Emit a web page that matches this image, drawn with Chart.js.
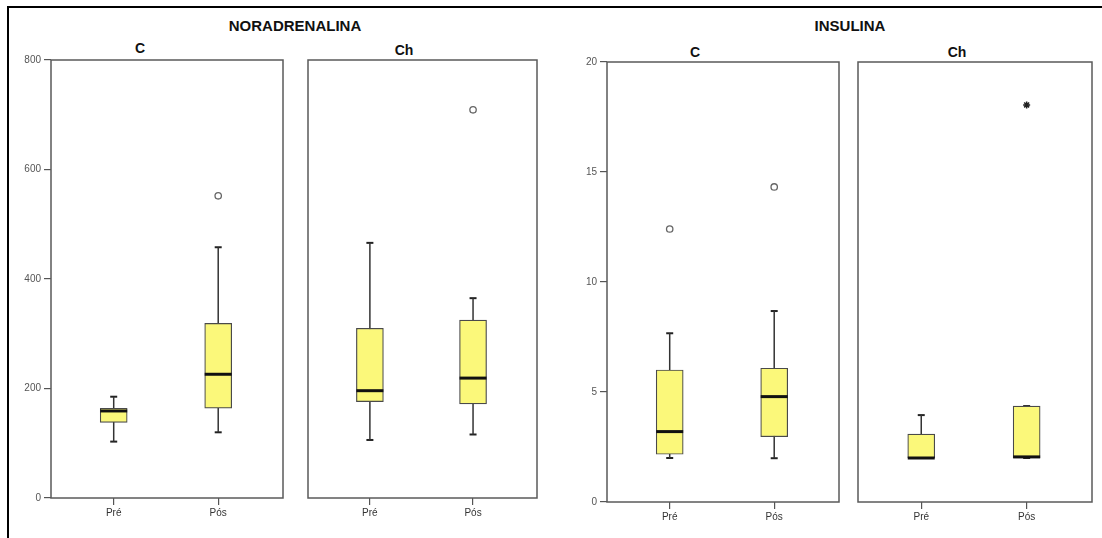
<!DOCTYPE html>
<html>
<head>
<meta charset="utf-8">
<script src="https://cdn.jsdelivr.net/npm/chart.js@4/dist/chart.umd.min.js"></script>
<style>
  body { margin: 0; background: #fff; width: 1102px; height: 538px; overflow: hidden; position: relative; font-family: "Liberation Sans", Arial, sans-serif; }
  .edge-top { position: absolute; left: 7px; top: 6px; width: 1095px; height: 2px; background: #000; }
  .edge-left { position: absolute; left: 7px; top: 6px; width: 2px; height: 532px; background: #000; }
  .title { position: absolute; font-weight: bold; color: #111; transform: translate(-50%, -50%); white-space: nowrap; }
  .main { font-size: 15px; }
  .sub { font-size: 14px; }
  .panel { position: absolute; }
</style>
</head>
<body>
<div class="edge-top"></div>
<div class="edge-left"></div>
<div class="title main" style="left:295px; top:25px">NORADRENALINA</div>
<div class="title main" style="left:850px; top:25px">INSULINA</div>
<div class="title sub" style="left:140px; top:48px">C</div>
<div class="title sub" style="left:404px; top:50px">Ch</div>
<div class="title sub" style="left:695px; top:52px">C</div>
<div class="title sub" style="left:957px; top:52px">Ch</div>

<div class="panel" id="p1"><canvas id="c1"></canvas></div>
<div class="panel" id="p2"><canvas id="c2"></canvas></div>
<div class="panel" id="p3"><canvas id="c3"></canvas></div>
<div class="panel" id="p4"><canvas id="c4"></canvas></div>

<script>
const groups = ['Pré', 'Pós'];

// per group: [lower whisker, Q1, median, Q3, upper whisker]
const noraC = [[103, 138, 159, 164, 185], [120, 164, 226, 319, 458]];
const noraCOut = [[], [552]];
const noraCh = [[106, 176, 196, 310, 466], [116, 172, 219, 325, 365]];
const noraChOut = [[], [709]];

const insC = [[2.0, 2.17, 3.2, 6.0, 7.67], [1.99, 2.97, 4.79, 6.08, 8.68]];
const insCOut = [[12.41], [14.32]];
const insCh = [[2.0, 2.0, 2.0, 3.09, 3.95], [2.0, 2.0, 2.05, 4.36, 4.36]];
const insChOut = [[], []];
const insChExtreme = [[], [18.05]];

const noraTicks = [0, 200, 400, 600, 800];
const insTicks = [0, 5, 10, 15, 20];

const Y_AXIS_W = 45, X_AXIS_H = 30, PAD_TOP = 10, PAD_RIGHT = 10;

const frame = {
    id: 'frame',
    afterDraw(chart) {
        let { ctx, chartArea: a } = chart;
        ctx.save();
        ctx.strokeStyle = '#5a5a5a';
        ctx.lineWidth = 1.5;
        ctx.strokeRect(a.left, a.top, a.right - a.left, a.bottom - a.top);
        ctx.restore();
    }
};

function panel(id, rect, stats, outliers, extremes, yTicks, showY) {
    let [left, top, right, bottom] = rect;
    let box = document.getElementById('p' + id);
    let w = right - left + Y_AXIS_W + PAD_RIGHT;
    let h = bottom - top + PAD_TOP + X_AXIS_H;
    box.style.left = (left - Y_AXIS_W) + 'px';
    box.style.top = (top - PAD_TOP) + 'px';
    box.style.width = w + 'px';
    box.style.height = h + 'px';

    let datasets = [];
    let pos = groups.map((g, i) => i + 1);

    datasets.push({
        type: 'line', order: 0, showLine: false,
        data: stats.map((s, i) => ({ x: pos[i], y: s[2] })),
        pointStyle: 'line', pointRadius: 13.5, borderColor: '#111', borderWidth: 3, clip: false,
    });
    datasets.push({
        type: 'line', order: 0, showLine: false,
        data: outliers.flatMap((o, i) => o.map(v => ({ x: pos[i], y: v }))),
        pointStyle: 'circle', pointRadius: 3.2, backgroundColor: '#fff', borderColor: '#666', borderWidth: 1.3, clip: false,
    });
    datasets.push({
        type: 'line', order: 0, showLine: false,
        data: extremes.flatMap((o, i) => o.map(v => ({ x: pos[i], y: v }))),
        pointStyle: 'star', pointRadius: 3.5, borderColor: '#222', borderWidth: 1.5, clip: false,
    });
    datasets.push({
        type: 'bar', order: 1, grouped: false,
        data: stats.map((s, i) => ({ x: pos[i], y: [s[1], s[3]] })),
        backgroundColor: '#fbf87a', borderColor: '#4a4a4a', borderWidth: 1.2, borderSkipped: false,
        barThickness: 27,
    });
    stats.forEach((s, i) => {
        datasets.push({
            type: 'line', order: 2,
            data: [{ x: pos[i], y: s[0] }, { x: pos[i], y: s[4] }],
            borderColor: '#333', borderWidth: 1.5, pointRadius: 0,
        });
    });
    datasets.push({
        type: 'line', order: 2, showLine: false,
        data: stats.flatMap((s, i) => [{ x: pos[i], y: s[0] }, { x: pos[i], y: s[4] }]),
        pointStyle: 'line', pointRadius: 3.5, borderColor: '#222', borderWidth: 2, clip: false,
    });

    new Chart(document.getElementById('c' + id), {
        data: { datasets },
        plugins: [frame],
        options: {
            responsive: true,
            maintainAspectRatio: false,
            animation: false,
            layout: { autoPadding: false, padding: { top: PAD_TOP, right: PAD_RIGHT, left: 0, bottom: 0 } },
            plugins: { legend: { display: false }, tooltip: { enabled: false } },
            scales: {
                x: {
                    type: 'linear', min: 0.4, max: 2.62, offset: false,
                    afterBuildTicks: s => { s.ticks = pos.map(v => ({ value: v })); },
                    afterFit: s => { s.height = X_AXIS_H; s.paddingLeft = 0; s.paddingRight = 0; },
                    ticks: {
                        callback: v => groups[v - 1],
                        color: '#333', padding: 2, maxRotation: 0,
                        font: { family: '"Liberation Sans", Arial, sans-serif', size: 10 },
                    },
                    grid: { offset: false, drawOnChartArea: false, drawTicks: true, tickLength: 7, color: '#555', lineWidth: 1.2 },
                    border: { display: false },
                },
                y: {
                    min: yTicks[0], max: yTicks[yTicks.length - 1],
                    afterBuildTicks: s => { s.ticks = yTicks.map(v => ({ value: v })); },
                    afterFit: s => { s.width = Y_AXIS_W; s.paddingTop = 0; s.paddingBottom = 0; },
                    ticks: {
                        display: showY,
                        color: '#555', padding: 3,
                        font: { family: '"Liberation Sans", Arial, sans-serif', size: 10 },
                    },
                    grid: { display: showY, drawOnChartArea: false, drawTicks: true, tickLength: 7, color: '#555', lineWidth: 1.2 },
                    border: { display: false },
                },
            },
        },
    });
}

panel(1, [51, 60, 283, 498], noraC, noraCOut, [[], []], noraTicks, true);
panel(2, [308, 60, 537, 498], noraCh, noraChOut, [[], []], noraTicks, false);
panel(3, [607, 62, 839, 502], insC, insCOut, [[], []], insTicks, true);
panel(4, [858, 62, 1092, 502], insCh, insChOut, insChExtreme, insTicks, false);
</script>
</body>
</html>
